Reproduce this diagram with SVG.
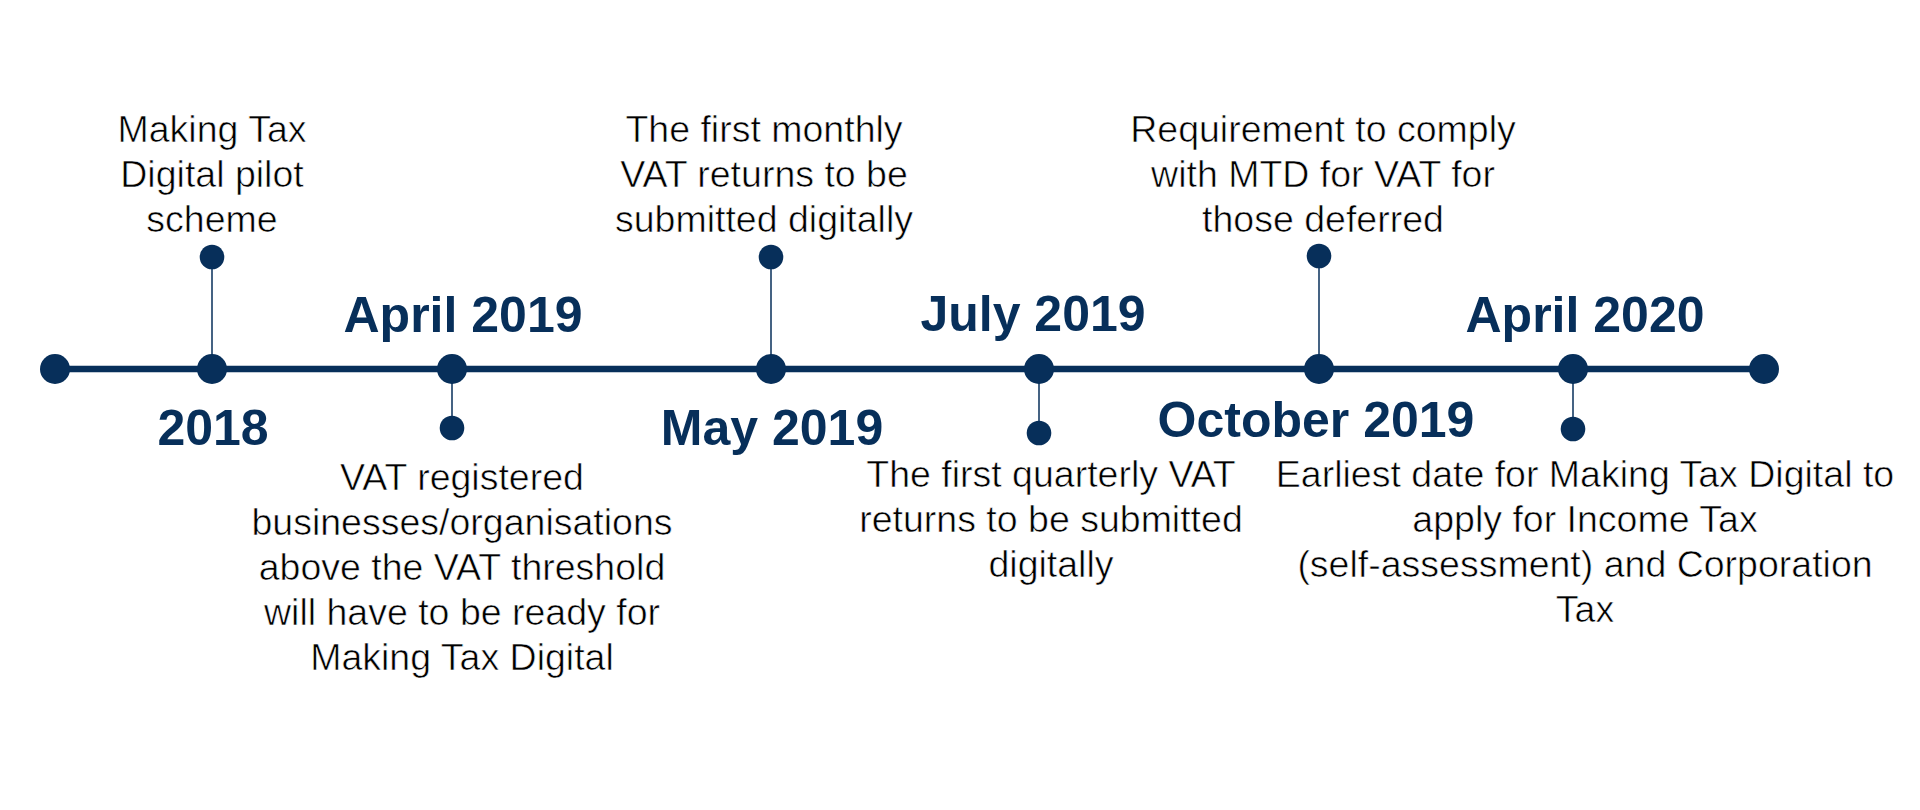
<svg xmlns="http://www.w3.org/2000/svg" width="1920" height="810" viewBox="0 0 1920 810">
<style>
.bg{fill:#ffffff}
.axis{stroke:#072f5a;stroke-width:6.5;fill:none}
.stem{stroke:#072f5a;stroke-width:1.5;fill:none}
.big{fill:#072f5a}
.small{fill:#072f5a}
.date{font-family:"Liberation Sans",Arial,sans-serif;font-weight:bold;font-size:50px;fill:#072f5a;text-anchor:middle}
.desc{font-family:"Liberation Sans",Arial,sans-serif;font-size:37.5px;fill:#000000;stroke:#ffffff;stroke-width:0.6px;text-anchor:middle}
</style>
<rect class="bg" x="0" y="0" width="1920" height="810"/>
<g id="connectors">
<line class="axis" x1="55" y1="369" x2="1764" y2="369"/>
<line class="stem" x1="212" y1="257" x2="212" y2="369"/>
<line class="stem" x1="452" y1="369" x2="452" y2="428"/>
<line class="stem" x1="771" y1="257" x2="771" y2="369"/>
<line class="stem" x1="1039" y1="369" x2="1039" y2="433"/>
<line class="stem" x1="1319" y1="256" x2="1319" y2="369"/>
<line class="stem" x1="1573" y1="369" x2="1573" y2="429"/>
</g>
<g id="start"><circle class="big" cx="55" cy="369" r="15"/></g>
<g id="end"><circle class="big" cx="1764" cy="369" r="15"/></g>
<g id="n2018">
<circle class="big" cx="212" cy="369" r="15"/>
<circle class="small" cx="212" cy="257" r="12.3"/>
<text class="date" x="213" y="445">2018</text>
<text class="desc" x="212" y="142">Making Tax</text>
<text class="desc" x="212" y="187">Digital pilot</text>
<text class="desc" x="212" y="232">scheme</text>
</g>
<g id="nApr2019">
<circle class="big" cx="452" cy="369" r="15"/>
<circle class="small" cx="452" cy="428" r="12.3"/>
<text class="date" x="463" y="332">April 2019</text>
<text class="desc" x="462" y="490">VAT registered</text>
<text class="desc" x="462" y="535">businesses/organisations</text>
<text class="desc" x="462" y="580">above the VAT threshold</text>
<text class="desc" x="462" y="625">will have to be ready for</text>
<text class="desc" x="462" y="670">Making Tax Digital</text>
</g>
<g id="nMay2019">
<circle class="big" cx="771" cy="369" r="15"/>
<circle class="small" cx="771" cy="257" r="12.3"/>
<text class="date" x="772" y="445">May 2019</text>
<text class="desc" x="764" y="142">The first monthly</text>
<text class="desc" x="764" y="187">VAT returns to be</text>
<text class="desc" x="764" y="232">submitted digitally</text>
</g>
<g id="nJul2019">
<circle class="big" cx="1039" cy="369" r="15"/>
<circle class="small" cx="1039" cy="433" r="12.3"/>
<text class="date" x="1033" y="331">July 2019</text>
<text class="desc" x="1051" y="487">The first quarterly VAT</text>
<text class="desc" x="1051" y="532">returns to be submitted</text>
<text class="desc" x="1051" y="577">digitally</text>
</g>
<g id="nOct2019">
<circle class="big" cx="1319" cy="369" r="15"/>
<circle class="small" cx="1319" cy="256" r="12.3"/>
<text class="date" x="1316" y="437">October 2019</text>
<text class="desc" x="1323" y="142">Requirement to comply</text>
<text class="desc" x="1323" y="187">with MTD for VAT for</text>
<text class="desc" x="1323" y="232">those deferred</text>
</g>
<g id="nApr2020">
<circle class="big" cx="1573" cy="369" r="15"/>
<circle class="small" cx="1573" cy="429" r="12.3"/>
<text class="date" x="1585" y="332">April 2020</text>
<text class="desc" x="1585" y="487">Earliest date for Making Tax Digital to</text>
<text class="desc" x="1585" y="532">apply for Income Tax</text>
<text class="desc" x="1585" y="577">(self-assessment) and Corporation</text>
<text class="desc" x="1585" y="622">Tax</text>
</g>
</svg>
